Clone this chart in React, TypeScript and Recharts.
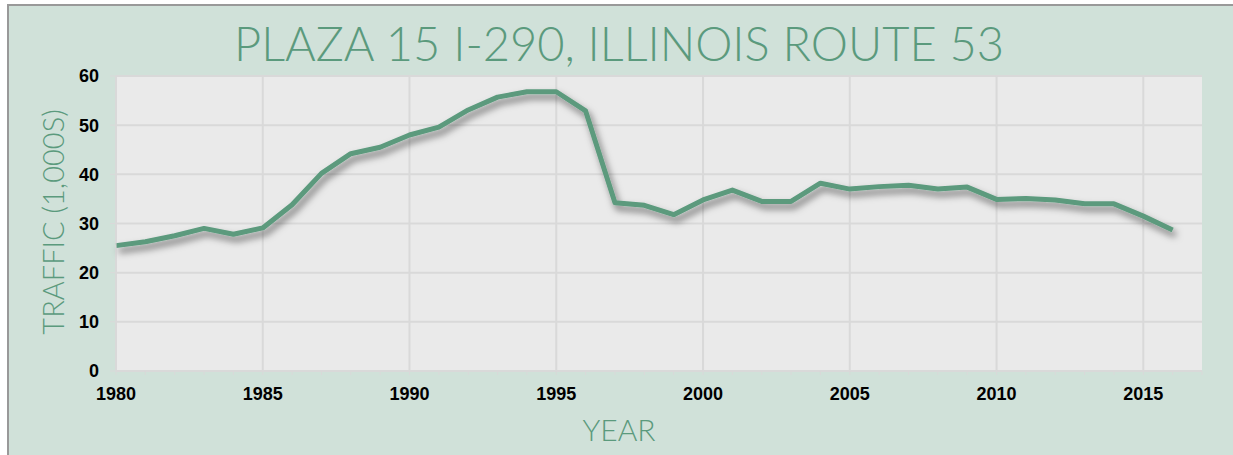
import { LineChart, Line, XAxis, YAxis, CartesianGrid } from "recharts";

const years = [
  1980, 1981, 1982, 1983, 1984, 1985, 1986, 1987, 1988, 1989, 1990, 1991,
  1992, 1993, 1994, 1995, 1996, 1997, 1998, 1999, 2000, 2001, 2002, 2003,
  2004, 2005, 2006, 2007, 2008, 2009, 2010, 2011, 2012, 2013, 2014, 2015,
  2016,
];

// traffic in thousands
const traffic = [
  25.5, 26.3, 27.5, 29.0, 27.8, 29.1, 33.8, 40.2, 44.2, 45.5, 48.0, 49.6,
  53.1, 55.7, 56.8, 56.8, 52.9, 34.2, 33.7, 31.8, 34.8, 36.8, 34.5, 34.5,
  38.2, 37.0, 37.5, 37.8, 37.0, 37.4, 34.9, 35.1, 34.8, 34.0, 34.0, 31.5,
  28.7,
];

const yTicks = [0, 10, 20, 30, 40, 50, 60];
const xLabelYears = [1980, 1985, 1990, 1995, 2000, 2005, 2010, 2015];
const xMinorTicks = [...years, 2017];

const data = years.map((year, i) => ({ year, traffic: traffic[i] }));

const GREEN = "#5B9A7D";
const BG = "#D0E1D9";
const THIN_FONT = '"Lato Light", Lato, sans-serif';

export default function App() {
  return (
    <div
      style={{
        position: "fixed",
        left: 0,
        top: 0,
        width: 1233,
        height: 455,
        overflow: "hidden",
        background: "#fff",
      }}
    >
      <div
        style={{
          position: "absolute",
          left: 7,
          top: 4,
          width: 1240,
          height: 470,
          background: BG,
          borderTop: "2px solid #999",
          borderLeft: "2px solid #999",
        }}
      >
        <div
          style={{
            position: "absolute",
            left: 0,
            width: 1220,
            top: 9,
            textAlign: "center",
            fontFamily: THIN_FONT,
            fontWeight: 300,
            fontSize: 47,
            lineHeight: "56px",
            color: GREEN,
            whiteSpace: "nowrap",
          }}
        >
          PLAZA 15 I-290, ILLINOIS ROUTE 53
        </div>
        <div
          style={{
            position: "absolute",
            left: 0,
            width: 1220,
            top: 405,
            textAlign: "center",
            fontFamily: THIN_FONT,
            fontWeight: 300,
            fontSize: 30,
            lineHeight: "36px",
            color: GREEN,
          }}
        >
          YEAR
        </div>
        <div
          style={{
            position: "absolute",
            left: 44,
            top: 216,
            width: 0,
            height: 0,
          }}
        >
          <div
            style={{
              position: "absolute",
              left: 0,
              top: 0,
              transform: "translate(-50%, -50%) rotate(-90deg)",
              fontFamily: THIN_FONT,
              fontWeight: 300,
              fontSize: 29,
              lineHeight: "32px",
              color: GREEN,
              whiteSpace: "nowrap",
              textTransform: "uppercase",
            }}
          >
            Traffic (1,000s)
          </div>
        </div>
        <div style={{ position: "absolute", left: 0, top: 0 }}>
          <LineChart
            width={1224}
            height={449}
            data={data}
            margin={{ top: 70, right: 31, bottom: 0, left: 0 }}
          >
            <defs>
              <filter id="lineShadow" x="-5%" y="-20%" width="110%" height="140%">
                <feDropShadow
                  dx="3"
                  dy="5"
                  stdDeviation="3.5"
                  floodColor="#000"
                  floodOpacity="0.5"
                />
              </filter>
            </defs>
            <CartesianGrid
              fill="#EAEAEA"
              stroke="#D9D9D9"
              strokeWidth={2}
              horizontalValues={yTicks}
              verticalValues={xLabelYears}
            />
            <XAxis
              dataKey="year"
              type="number"
              domain={[1980, 2017]}
              ticks={xMinorTicks}
              interval={0}
              height={84}
              tickFormatter={(v: number) => (v % 5 === 0 && v < 2017 ? String(v) : "")}
              tick={{
                fill: "#000",
                fontSize: 18,
                fontWeight: 700,
                fontFamily: "Liberation Sans",
              }}
              tickSize={4}
              tickMargin={12}
              tickLine={{ stroke: "#D9D9D9" }}
              axisLine={{ stroke: "#D9D9D9" }}
            />
            <YAxis
              type="number"
              domain={[0, 60]}
              ticks={yTicks}
              interval={0}
              width={107}
              tick={{
                fill: "#000",
                fontSize: 18,
                fontWeight: 700,
                fontFamily: "Liberation Sans",
              }}
              tickSize={6}
              tickMargin={11}
              tickLine={{ stroke: "#D9D9D9" }}
              axisLine={{ stroke: "#D9D9D9" }}
            />
            <Line
              type="linear"
              dataKey="traffic"
              stroke={GREEN}
              strokeWidth={5}
              strokeLinejoin="round"
              dot={false}
              filter="url(#lineShadow)"
              isAnimationActive={false}
            />
          </LineChart>
        </div>
      </div>
    </div>
  );
}
